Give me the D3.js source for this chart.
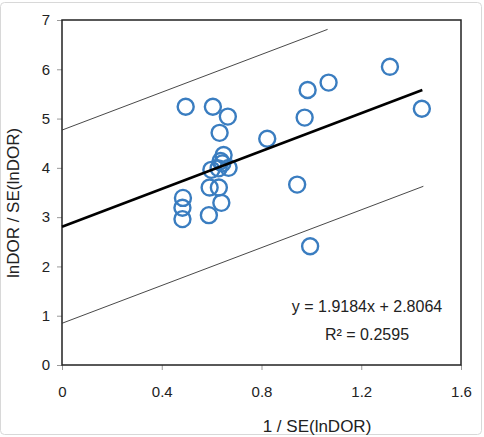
<!DOCTYPE html>
<html>
<head>
<meta charset="utf-8">
<script src="https://cdn.jsdelivr.net/npm/d3@7"></script>
<style>
  body { margin: 0; background: #fff; }
  svg text { font-family: "Liberation Sans", Arial, sans-serif; fill: #222; }
</style>
</head>
<body>
<svg id="chart" width="484" height="437"></svg>
<script>
// values
var xVals = [0.496, 0.605, 0.665, 0.632, 0.985, 1.069, 1.315, 1.443, 0.973, 0.823,
             0.648, 0.636, 0.599, 0.628, 0.668, 0.643, 0.592, 0.629, 0.639, 0.589,
             0.485, 0.483, 0.483, 0.943, 0.995];
var yVals = [5.24, 5.24, 5.04, 4.71, 5.58, 5.73, 6.05, 5.20, 5.02, 4.59,
             4.26, 4.14, 3.96, 3.99, 4.00, 4.09, 3.60, 3.60, 3.29, 3.04,
             3.39, 3.19, 2.96, 3.66, 2.41];
var xTicks = [0, 0.4, 0.8, 1.2, 1.6];
var yTicks = [0, 1, 2, 3, 4, 5, 6, 7];

// trend line and band
var slope = 1.9184, intercept = 2.8064, band = 1.96;
var fitRange = [0, 1.445];
var upperRange = [0, 1.065];
var lowerRange = [0, 1.449];
var eqText = "y = 1.9184x + 2.8064";
var r2Text = "R² = 0.2595";

var svg = d3.select("#chart");

// faint outer frame
svg.append("rect")
    .attr("x", 0.5).attr("y", 2.5)
    .attr("width", 481).attr("height", 432)
    .attr("rx", 4)
    .style("fill", "none")
    .style("stroke", "#d8d8d8");

var plotL = 62, plotR = 461, plotT = 20, plotB = 365;
var xScale = d3.scaleLinear().domain([0, 1.6]).range([plotL, plotR]);
var yScale = d3.scaleLinear().domain([0, 7]).range([plotB, plotT]);

//axes
var xAxis = d3.axisBottom(xScale).tickValues(xTicks).tickSize(5).tickPadding(16)
    .tickFormat(function(d){ return d === 0 ? "0" : d3.format(".1f")(d); });
var yAxis = d3.axisLeft(yScale).tickValues(yTicks).tickSize(5).tickPadding(7)
    .tickFormat(d3.format("d"));

var gx = svg.append("g").attr("transform", "translate(0," + plotB + ")").call(xAxis);
var gy = svg.append("g").attr("transform", "translate(" + plotL + ",0)").call(yAxis);
[gx, gy].forEach(function(g){
    g.select(".domain").remove();
    g.selectAll("line").style("stroke", "#999");
    g.selectAll("text").style("font-size", "15px").style("fill", "#222")
        .style("font-family", "Liberation Sans, Arial, sans-serif");
});

// plot frame
svg.append("rect")
    .attr("x", plotL).attr("y", plotT)
    .attr("width", plotR - plotL).attr("height", plotB - plotT)
    .style("fill", "none")
    .style("stroke", "#222")
    .style("stroke-width", 1.5);

function lineFor(range, offset){
    return [range[0], range[1]].map(function(x){
        return [xScale(x), yScale(slope * x + intercept + offset)];
    });
}
var path = d3.line();

svg.append("path").attr("d", path(lineFor(upperRange, band)))
    .style("fill", "none").style("stroke", "#333").style("stroke-width", 0.9);
svg.append("path").attr("d", path(lineFor(lowerRange, -band)))
    .style("fill", "none").style("stroke", "#333").style("stroke-width", 0.9);

// points
svg.selectAll("circle.pt")
    .data(xVals.map(function(x, i){ return [x, yVals[i]]; }))
    .enter().append("circle")
    .attr("class", "pt")
    .attr("cx", function(d){ return xScale(d[0]); })
    .attr("cy", function(d){ return yScale(d[1]); })
    .attr("r", 8)
    .style("fill", "none")
    .style("stroke", "#3a7dc0")
    .style("stroke-width", 2.4);

svg.append("path").attr("d", path(lineFor(fitRange, 0)))
    .style("fill", "none").style("stroke", "#000").style("stroke-width", 2.6);

// equation
svg.append("text").attr("x", 367).attr("y", 312)
    .style("text-anchor", "middle").style("font-size", "16px").text(eqText);
svg.append("text").attr("x", 367).attr("y", 340)
    .style("text-anchor", "middle").style("font-size", "16px").text(r2Text);

// axis titles
svg.append("text").attr("x", 317).attr("y", 432)
    .style("text-anchor", "middle").style("font-size", "17px").text("1 / SE(lnDOR)");
svg.append("text")
    .attr("transform", "translate(19,203) rotate(-90)")
    .style("text-anchor", "middle").style("font-size", "17px").text("lnDOR / SE(lnDOR)");
</script>
</body>
</html>
